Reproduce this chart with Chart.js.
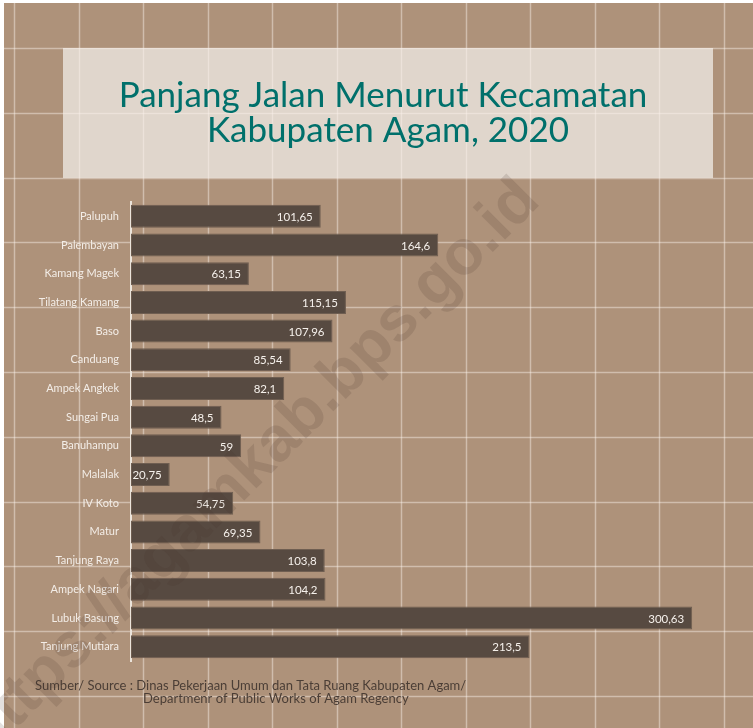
<!DOCTYPE html>
<html>
<head>
<meta charset="utf-8">
<title>Panjang Jalan Menurut Kecamatan</title>
<script src="https://cdn.jsdelivr.net/npm/chart.js@4.4.1/dist/chart.umd.min.js"></script>
<style>
  html, body { margin: 0; padding: 0; background: #ffffff; }
  #wrap { width: 753px; height: 728px; }
</style>
</head>
<body>
<div id="wrap"><canvas id="myChart" width="753" height="728"></canvas></div>
<script>
// Datos
const kecamatan = [
  "Palupuh", "Palembayan", "Kamang Magek", "Tilatang Kamang", "Baso",
  "Canduang", "Ampek Angkek", "Sungai Pua", "Banuhampu", "Malalak",
  "IV Koto", "Matur", "Tanjung Raya", "Ampek Nagari", "Lubuk Basung",
  "Tanjung Mutiara"
];
const panjangJalan = [
  101.65, 164.6, 63.15, 115.15, 107.96, 85.54, 82.1, 48.5, 59, 20.75,
  54.75, 69.35, 103.8, 104.2, 300.63, 213.5
];
const judul = ["Panjang Jalan Menurut Kecamatan", "Kabupaten Agam, 2020"];
const sumber = [
  "Sumber/ Source : Dinas Pekerjaan Umum dan Tata Ruang Kabupaten Agam/",
  "Departmenr of Public Works of Agam Regency"
];
const watermark = "https://agamkab.bps.go.id";

const fmt = (v) => String(v).replace(".", ",");

// Fondo: papel cuadriculado, caja de título, fuente
const fondoPlugin = {
  id: "fondo",
  beforeDraw(chart) {
    const ctx = chart.ctx;
    const W = chart.width, H = chart.height;
    ctx.save();
    ctx.fillStyle = "#ffffff";
    ctx.fillRect(0, 0, W, H);
    ctx.fillStyle = "#ae927a";
    ctx.fillRect(4, 3, W - 4, H - 3);

    // caja del título
    ctx.fillStyle = "#e0d6cc";
    ctx.fillRect(63, 48, 650, 130);

    // cuadrícula decorativa
    ctx.strokeStyle = "rgba(250, 242, 234, 0.45)";
    ctx.lineWidth = 1.5;
    for (let x = 14; x < W; x += 64.5) {
      ctx.beginPath();
      ctx.moveTo(Math.round(x) + 0.5, 3);
      ctx.lineTo(Math.round(x) + 0.5, H);
      ctx.stroke();
    }
    for (let y = 48; y < H; y += 64.8) {
      ctx.beginPath();
      ctx.moveTo(4, Math.round(y) + 0.5);
      ctx.lineTo(W, Math.round(y) + 0.5);
      ctx.stroke();
    }

    // título
    ctx.fillStyle = "#00706b";
    ctx.textAlign = "center";
    ctx.textBaseline = "alphabetic";
    ctx.font = "35px Lato";
    ctx.fillText(judul[0], 383, 107);
    ctx.fillText(judul[1], 388, 142);

    // fuente
    ctx.fillStyle = "#4b3e36";
    ctx.textAlign = "left";
    ctx.font = "13px Lato";
    ctx.fillText(sumber[0], 35, 690);
    ctx.fillText(sumber[1], 143, 703);
    ctx.restore();
  },
};

// Etiquetas de valor dentro de cada barra + marca de agua
const etiquetasPlugin = {
  id: "etiquetas",
  afterDatasetsDraw(chart) {
    const ctx = chart.ctx;
    const meta = chart.getDatasetMeta(0);
    ctx.save();
    ctx.fillStyle = "#f6f1ec";
    ctx.font = "11.5px Lato";
    ctx.textAlign = "right";
    ctx.textBaseline = "middle";
    meta.data.forEach((bar, i) => {
      ctx.fillText(fmt(panjangJalan[i]), bar.x - 8, bar.y + 1);
    });
    ctx.restore();
  },
  afterDraw(chart) {
    const ctx = chart.ctx;
    ctx.save();
    ctx.translate(252, 468);
    ctx.rotate(-Math.PI / 4);
    ctx.font = "bold 56px 'Liberation Sans'";
    const w = ctx.measureText(watermark).width;
    const s = 785 / w;
    ctx.scale(s, s);
    ctx.fillStyle = "rgba(70, 50, 38, 0.15)";
    ctx.textAlign = "center";
    ctx.textBaseline = "middle";
    ctx.fillText(watermark, 0, 0);
    ctx.restore();
  },
};

const ctx = document.getElementById("myChart").getContext("2d");

const config = {
  type: "bar",
  data: {
    labels: kecamatan,
    datasets: [
      {
        label: "Panjang Jalan (km)",
        data: panjangJalan,
        backgroundColor: "#574a41",
        borderColor: "#6f5e51",
        borderWidth: 1,
        borderSkipped: false,
        barPercentage: 0.8,
        categoryPercentage: 1,
      },
    ],
  },
  options: {
    indexAxis: "y",
    responsive: false,
    devicePixelRatio: 1,
    animation: false,
    layout: {
      padding: { top: 202, bottom: 67, left: 0, right: 6 },
    },
    plugins: {
      legend: { display: false },
      title: { display: false },
      tooltip: { enabled: false },
    },
    scales: {
      x: {
        display: false,
        min: 0,
        max: 330,
      },
      y: {
        afterFit(scale) {
          scale.width = 131; // ancho fijo del eje de categorías
        },
        grid: { display: false },
        border: { display: true, color: "#ebe3da", width: 2 },
        ticks: {
          color: "#f3ede7",
          padding: 4,
          font: { family: "Lato", size: 11 },
        },
      },
    },
  },
  plugins: [fondoPlugin, etiquetasPlugin],
};

const myChart = new Chart(ctx, config);
</script>
</body>
</html>
